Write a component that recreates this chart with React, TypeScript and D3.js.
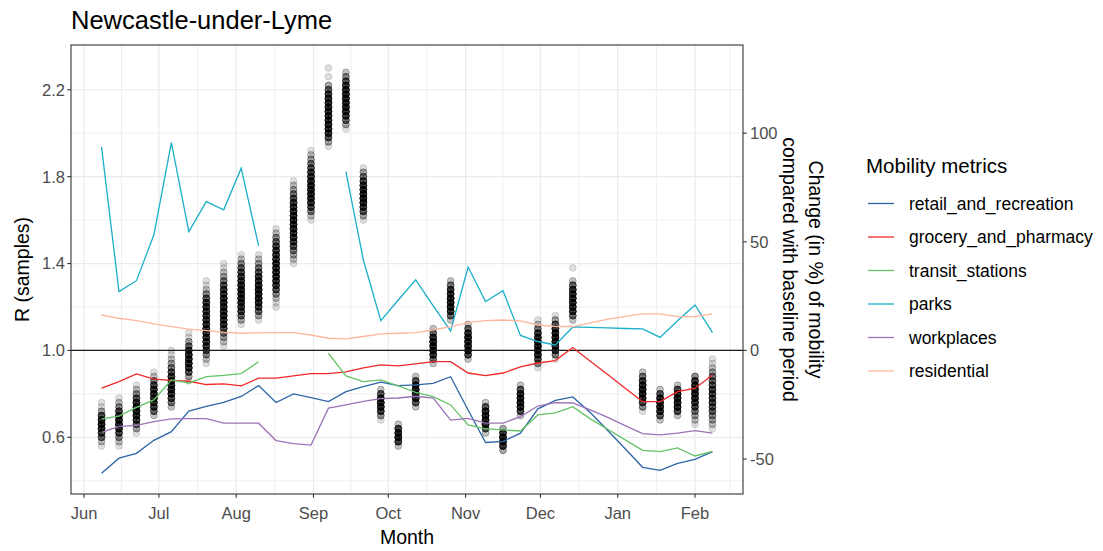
import React, { useEffect, useRef } from 'react'
import * as d3 from 'd3'

// weekly R samples, kept as counts per 0.02 bin (bin start per week)
const rDates = [
    '2020-06-08', '2020-06-15', '2020-06-22', '2020-06-29', '2020-07-06', '2020-07-13', '2020-07-20',
    '2020-07-27', '2020-08-03', '2020-08-10', '2020-08-17', '2020-08-24', '2020-08-31', '2020-09-07',
    '2020-09-14', '2020-09-21', '2020-09-28', '2020-10-05', '2020-10-12', '2020-10-19', '2020-10-26',
    '2020-11-02', '2020-11-09', '2020-11-16', '2020-11-23', '2020-11-30', '2020-12-07', '2020-12-14',
    '2021-01-11', '2021-01-18', '2021-01-25', '2021-02-01', '2021-02-08'
]
const rBinStart = [
    0.56, 0.56, 0.62, 0.70, 0.74, 0.86, 0.94, 1.02, 1.12, 1.14, 1.20, 1.40, 1.60, 1.94, 2.02, 1.60, 0.68,
    0.56, 0.74, 0.94, 1.14, 0.96, 0.62, 0.54, 0.70, 0.92, 0.96, 1.14, 0.72, 0.68, 0.70, 0.66, 0.64
]
const binWidth = 0.02
const rBinCounts = [
    [1, 2, 6, 9, 11, 12, 11, 8, 3, 1, 1],
    [1, 2, 4, 8, 11, 12, 12, 10, 8, 4, 2, 1],
    [1, 3, 6, 9, 11, 12, 11, 10, 7, 4, 2, 1],
    [2, 6, 9, 10, 11, 11, 10, 8, 5, 2, 1],
    [2, 5, 8, 10, 11, 11, 10, 9, 7, 5, 3, 2, 1, 1],
    [1, 3, 7, 10, 11, 12, 11, 9, 6, 3, 1, 1],
    [1, 2, 4, 7, 9, 10, 10, 10, 10, 10, 10, 10, 10, 10, 9, 7, 4, 2, 1, 1],
    [1, 2, 3, 5, 8, 10, 10, 11, 11, 11, 11, 11, 10, 9, 7, 5, 3, 2, 1, 1],
    [1, 3, 6, 9, 10, 11, 12, 12, 12, 11, 10, 9, 8, 6, 4, 2, 1],
    [1, 3, 6, 9, 11, 12, 12, 12, 11, 10, 9, 7, 5, 3, 2, 1],
    [1, 1, 2, 4, 7, 9, 10, 11, 11, 11, 11, 10, 10, 9, 8, 6, 4, 2, 1],
    [1, 2, 3, 5, 7, 9, 10, 10, 11, 11, 11, 11, 10, 10, 9, 7, 5, 3, 2, 1],
    [1, 2, 5, 8, 10, 11, 12, 12, 12, 11, 10, 9, 7, 5, 3, 2, 1],
    [1, 3, 7, 10, 11, 11, 11, 11, 11, 11, 11, 10, 9, 6, 3, 0, 1, 0, 1],
    [1, 3, 6, 9, 11, 12, 12, 12, 12, 11, 9, 7, 4, 2],
    [1, 3, 7, 10, 12, 12, 12, 11, 10, 8, 5, 3, 1],
    [1, 4, 9, 12, 12, 11, 7, 2],
    [2, 9, 12, 12, 9, 2],
    [2, 7, 11, 12, 12, 11, 7, 2],
    [2, 6, 10, 12, 12, 12, 10, 6, 2],
    [2, 6, 10, 12, 12, 12, 11, 9, 5, 2],
    [2, 8, 11, 12, 12, 12, 10, 6, 2],
    [2, 7, 11, 12, 12, 11, 7, 2],
    [3, 10, 12, 12, 10, 3],
    [2, 8, 11, 12, 12, 11, 7, 2],
    [1, 4, 8, 11, 12, 12, 12, 11, 9, 5, 2, 1],
    [1, 5, 9, 11, 12, 12, 12, 10, 7, 3, 1],
    [2, 6, 10, 11, 11, 11, 11, 10, 6, 2, 0, 0, 1],
    [1, 4, 8, 11, 12, 12, 11, 9, 5, 2],
    [2, 7, 11, 12, 12, 11, 7, 2],
    [2, 8, 11, 12, 12, 11, 8, 2],
    [1, 2, 3, 5, 8, 10, 11, 12, 12, 11, 9, 4],
    [1, 2, 3, 4, 6, 7, 8, 8, 8, 8, 7, 6, 5, 3, 2, 1, 1]
]

// weekly mobility change (%) vs baseline
const mobilityDates = [
    '2020-06-08', '2020-06-15', '2020-06-22', '2020-06-29', '2020-07-06', '2020-07-13', '2020-07-20',
    '2020-07-27', '2020-08-03', '2020-08-10', '2020-08-17', '2020-08-24', '2020-08-31', '2020-09-07',
    '2020-09-14', '2020-09-21', '2020-09-28', '2020-10-05', '2020-10-12', '2020-10-19', '2020-10-26',
    '2020-11-02', '2020-11-09', '2020-11-16', '2020-11-23', '2020-11-30', '2020-12-07', '2020-12-14',
    '2020-12-21', '2020-12-28', '2021-01-04', '2021-01-11', '2021-01-18', '2021-01-25', '2021-02-01',
    '2021-02-08'
]
const retail = [-56.5, -49.6, -47.4, -41.4, -37.4, -27.9, -25.8, -23.9, -21.2, -16.2, -24.0, -20.0, -21.7,
    -23.6, -19.0, -16.7, -14.6, -16.2, -15.9, -15.2, -12.1, -27.4, -42.4, -41.9, -38.1, -26.9, -23.0, -21.4,
    -28.6, -36.9, -45.3, -53.8, -55.2, -52.0, -50.2, -46.6]
const grocery = [-17.4, -14.4, -10.8, -13.2, -13.8, -14.2, -15.7, -15.4, -16.3, -12.8, -12.8, -11.7, -10.7,
    -10.7, -9.9, -8.0, -6.7, -7.1, -6.2, -5.2, -5.2, -10.4, -11.6, -10.4, -7.6, -5.8, -4.7, 1.3,
    -5.0, -11.1, -17.4, -23.6, -23.6, -19.0, -17.4, -11.3]
const transit = [-31.5, -30.2, -26.2, -22.8, -13.6, -15.0, -12.1, -11.5, -10.7, -5.2, null, null, null,
    -1.3, -11.7, -14.4, -13.6, -16.3, -19.3, -21.3, -25.1, -34.3, -36.1, -36.6, -37.1, -29.7, -28.8, -25.9,
    -31.5, -36.3, -41.2, -46.0, -46.6, -44.9, -48.6, -46.5]
const parks = [93.6, 27.1, 32.1, 53.2, 95.7, 54.7, 68.5, 64.7, 83.9, 48.1, null, null, null,
    null, 82.3, 41.6, 13.7, 23.2, 32.5, 20.5, 9.0, 38.4, 22.5, 27.5, 6.9, 4.1, 2.5, 10.8,
    10.6, 10.4, 10.1, 9.9, 6.0, 13.7, 20.9, 8.2]
const workplaces = [-37.7, -35.0, -34.5, -32.8, -31.5, -31.4, -31.4, -33.5, -33.5, -33.5, -41.5, -42.9, -43.6,
    -26.6, -25.1, -23.5, -22.2, -21.9, -21.1, -22.0, -32.1, -31.3, -33.5, -33.5, -30.5, -25.6, -24.0, -24.2,
    -27.4, -30.8, -34.6, -38.3, -38.9, -38.1, -36.9, -38.1]
const residential = [16.3, 14.8, 13.7, 12.2, 11.0, 9.8, 9.1, 8.4, 7.9, 8.1, 8.2, 8.2, 7.1,
    5.6, 5.3, 6.4, 7.6, 7.9, 8.2, 9.4, 11.0, 12.8, 13.7, 14.0, 13.6, 11.7, 11.0, 11.0,
    12.7, 14.4, 15.7, 16.8, 16.8, 15.6, 15.6, 16.8]

const metricNames = ['retail_and_recreation', 'grocery_and_pharmacy', 'transit_stations', 'parks', 'workplaces', 'residential']
const metricColors = ['#2C65A6', '#F02828', '#66C266', '#1AAFC9', '#9C72B8', '#FDB79C']
const rTicks = [0.6, 1.0, 1.4, 1.8, 2.2]
const rMinorTicks = [0.4, 0.8, 1.2, 1.6, 2.0]
const mobilityTicks = [-50, 0, 50, 100]

export default function App() {
    const ref = useRef<SVGSVGElement>(null)

    let width = 1103, height = 551
    let left = 71, right = 743, top = 45, bottom = 494
    let font = 'Arial, "Liberation Sans", sans-serif'

    function drawChart() {
        const svg = d3.select(ref.current)
        svg.selectAll('*').remove()

        const parse = d3.utcParse('%Y-%m-%d')
        const x = d3.scaleUtc()
            .domain([new Date(Date.UTC(2020, 4, 26, 18)), new Date(Date.UTC(2021, 1, 20, 6))])
            .range([left, right])
        const y = d3.scaleLinear().domain([0.339, 2.406]).range([bottom, top])
        // secondary axis: mobility % = (R - 1) * 100
        const y2 = d3.scaleLinear().domain([(0.339 - 1) * 100, (2.406 - 1) * 100]).range([bottom, top])

        svg.append('rect').attr('width', width).attr('height', height).attr('fill', 'white')

        // grid
        const grid = svg.append('g')
        const months = d3.utcMonths(new Date(Date.UTC(2020, 4, 1)), new Date(Date.UTC(2021, 2, 2)))
        const monthTicks = x.ticks(d3.utcMonth.every(1) as any)
        const minorX = d3.pairs(months).map(p => new Date((p[0].getTime() + p[1].getTime()) / 2))
            .filter(d => x(d) > left && x(d) < right)

        grid.selectAll('.vminor').data(minorX).enter().append('line')
            .attr('x1', d => x(d)).attr('x2', d => x(d)).attr('y1', top).attr('y2', bottom)
            .attr('stroke', '#EBEBEB').attr('stroke-width', 0.8)
        grid.selectAll('.hminor').data(rMinorTicks.filter(d => y(d) > top && y(d) < bottom)).enter().append('line')
            .attr('x1', left).attr('x2', right).attr('y1', d => y(d)).attr('y2', d => y(d))
            .attr('stroke', '#EBEBEB').attr('stroke-width', 0.8)
        grid.selectAll('.vmajor').data(monthTicks).enter().append('line')
            .attr('x1', d => x(d)).attr('x2', d => x(d)).attr('y1', top).attr('y2', bottom)
            .attr('stroke', '#EBEBEB').attr('stroke-width', 1.2)
        grid.selectAll('.hmajor').data(rTicks).enter().append('line')
            .attr('x1', left).attr('x2', right).attr('y1', d => y(d)).attr('y2', d => y(d))
            .attr('stroke', '#EBEBEB').attr('stroke-width', 1.2)

        // R samples
        const samples: { date: Date, r: number }[] = []
        rDates.forEach((d, w) => {
            rBinCounts[w].forEach((count, j) => {
                for (let k = 0; k < count; k++) {
                    samples.push({ date: parse(d) as Date, r: rBinStart[w] + j * binWidth })
                }
            })
        })
        svg.append('g').selectAll('circle')
            .data(samples)
            .enter()
            .append('circle')
            .attr('cx', d => x(d.date))
            .attr('cy', d => y(d.r))
            .attr('r', 3.4)
            .attr('fill', 'black')
            .attr('fill-opacity', 0.12)
            .attr('stroke', 'black')
            .attr('stroke-opacity', 0.15)
            .attr('stroke-width', 0.9)

        // R = 1 reference
        svg.append('line')
            .attr('x1', left).attr('x2', right).attr('y1', y(1)).attr('y2', y(1))
            .attr('stroke', '#1a1a1a').attr('stroke-width', 1.1)

        // mobility lines
        const series = [retail, grocery, transit, parks, workplaces, residential]
        const dates = mobilityDates.map(d => parse(d) as Date)
        const line = d3.line<number | null>()
            .defined(d => d != null)
            .x((d, i) => x(dates[i]))
            .y(d => y2(d as number))
        series.forEach((s, i) => {
            svg.append('path')
                .attr('d', line(s))
                .attr('fill', 'none')
                .attr('stroke', metricColors[i])
                .attr('stroke-width', 1.3)
        })

        // panel border
        svg.append('rect')
            .attr('x', left).attr('y', top).attr('width', right - left).attr('height', bottom - top)
            .attr('fill', 'none').attr('stroke', '#333333').attr('stroke-width', 1.1)

        // left axis
        const axisL = svg.append('g')
        axisL.selectAll('line').data(rTicks).enter().append('line')
            .attr('x1', left - 3.7).attr('x2', left).attr('y1', d => y(d)).attr('y2', d => y(d))
            .attr('stroke', '#333333').attr('stroke-width', 1.1)
        axisL.selectAll('text').data(rTicks).enter().append('text')
            .attr('x', left - 6).attr('y', d => y(d)).attr('dy', '0.36em')
            .attr('text-anchor', 'end')
            .text(d => d3.format('.1f')(d))
            .style('font-size', '16.5px').style('font-family', font).attr('fill', '#4D4D4D')

        // right axis
        const axisR = svg.append('g')
        axisR.selectAll('line').data(mobilityTicks).enter().append('line')
            .attr('x1', right).attr('x2', right + 3.7).attr('y1', d => y2(d)).attr('y2', d => y2(d))
            .attr('stroke', '#333333').attr('stroke-width', 1.1)
        axisR.selectAll('text').data(mobilityTicks).enter().append('text')
            .attr('x', right + 7).attr('y', d => y2(d)).attr('dy', '0.36em')
            .attr('text-anchor', 'start')
            .text(d => String(d))
            .style('font-size', '16.5px').style('font-family', font).attr('fill', '#4D4D4D')

        // bottom axis
        const axisB = svg.append('g')
        axisB.selectAll('line').data(monthTicks).enter().append('line')
            .attr('x1', d => x(d)).attr('x2', d => x(d)).attr('y1', bottom).attr('y2', bottom + 3.7)
            .attr('stroke', '#333333').attr('stroke-width', 1.1)
        axisB.selectAll('text').data(monthTicks).enter().append('text')
            .attr('x', d => x(d)).attr('y', 519)
            .attr('text-anchor', 'middle')
            .text(d => d3.utcFormat('%b')(d))
            .style('font-size', '16.5px').style('font-family', font).attr('fill', '#4D4D4D')

        // titles
        svg.append('text').attr('x', left).attr('y', 29).text('Newcastle-under-Lyme')
            .style('font-size', '25.5px').style('font-family', font).attr('fill', 'black')
        svg.append('text').attr('x', (left + right) / 2).attr('y', 544).attr('text-anchor', 'middle')
            .text('Month').style('font-size', '19.5px').style('font-family', font)
        svg.append('text').attr('transform', 'translate(29,' + ((top + bottom) / 2) + ') rotate(-90)')
            .attr('text-anchor', 'middle').text('R (samples)')
            .style('font-size', '19.5px').style('font-family', font)
        svg.append('text').attr('transform', 'translate(809,' + ((top + bottom) / 2) + ') rotate(90)')
            .attr('text-anchor', 'middle').text('Change (in %) of mobility')
            .style('font-size', '19.5px').style('font-family', font)
        svg.append('text').attr('transform', 'translate(783,' + ((top + bottom) / 2) + ') rotate(90)')
            .attr('text-anchor', 'middle').text('compared with baseline period')
            .style('font-size', '19.5px').style('font-family', font)

        // legend
        const legend = svg.append('g').attr('transform', 'translate(866, 0)')
        legend.append('text').attr('x', 0).attr('y', 173).text('Mobility metrics')
            .style('font-size', '20.5px').style('font-family', font)
        const rows = legend.selectAll('.row').data(metricNames).enter().append('g')
            .attr('transform', (d, i) => 'translate(0,' + (203.5 + i * 33.5) + ')')
        rows.append('line').attr('x1', 2).attr('x2', 28).attr('y1', 0).attr('y2', 0)
            .attr('stroke', (d, i) => metricColors[i]).attr('stroke-width', 1.3)
        rows.append('text').attr('x', 43).attr('y', 0).attr('dy', '0.36em').text(d => d)
            .style('font-size', '17.5px').style('font-family', font)
    }

    useEffect(() => {
        drawChart()
    }, [])

    return (
        <svg ref={ref} width={width} height={height} style={{ position: 'absolute', left: 0, top: 0 }} />
    )
}
